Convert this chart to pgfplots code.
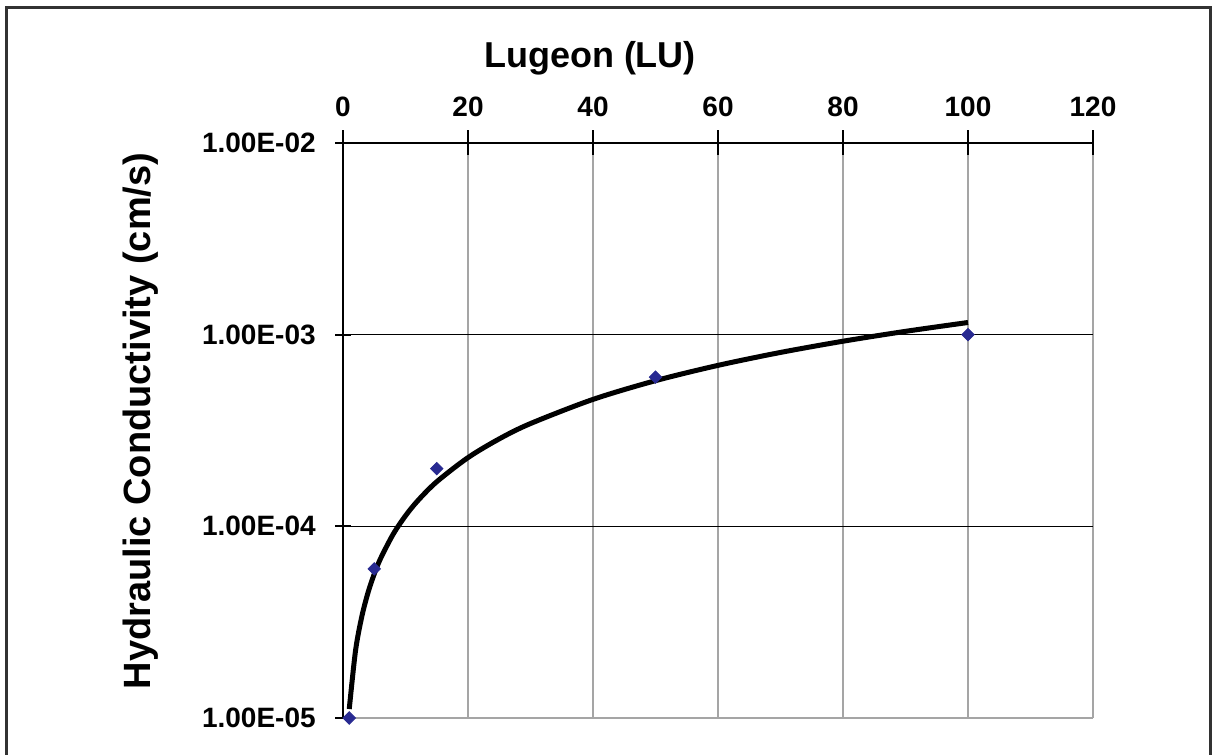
\documentclass[border=0pt]{standalone}
\usepackage{pgfplots}
\pgfplotsset{compat=1.18}
\usepackage{fontspec}
\setmainfont{Liberation Sans}
\definecolor{ptblue}{RGB}{40,42,145}
\definecolor{gridgray}{RGB}{165,165,165}
\definecolor{framegray}{RGB}{50,50,50}
\begin{document}
\begin{tikzpicture}
\useasboundingbox (0pt,0pt) rectangle (606.5pt,377pt);
\draw[line width=1.5pt, color=framegray] (3.25pt,-5pt) -- (3.25pt,373.25pt) -- (605.25pt,373.25pt) -- (605.25pt,-5pt);
\begin{axis}[
  at={(171.5pt,18pt)}, anchor=south west,
  scale only axis, width=375pt, height=287.5pt,
  xmin=0, xmax=120, ymode=log, ymin=1e-5, ymax=1e-2,
  axis x line*=top, axis y line*=left,
  axis line style={black, line width=1pt},
  xtick={0,20,40,60,80,100,120},
  ytick={1e-5,1e-4,1e-3,1e-2},
  yticklabels={1.00E-05,1.00E-04,1.00E-03,1.00E-02},
  yminorticks=false, xminorticks=false,
  tick align=center,
  xtick style={black, line width=1pt, /pgfplots/major tick length=12.5pt},
  ytick style={black, line width=1pt, /pgfplots/major tick length=8pt},
  xmajorgrids, ymajorgrids,
  x grid style={gridgray, line width=1pt},
  y grid style={black, line width=0.75pt},
  /pgf/number format/assume math mode=true,
  tick label style={font=\fontsize{14}{16}\selectfont\bfseries},
  xticklabel style={yshift=7.5pt},
  yticklabel style={xshift=-8pt},
  clip=false,
]
\addplot[black, line width=2.5pt, smooth] coordinates {
(1,1.114e-5) (2,2.241e-5) (3,3.373e-5) (4,4.508e-5) (5,5.645e-5) (6,6.784e-5)
(8,9.067e-5) (10,1.1355e-4) (12,1.3647e-4) (15,1.709e-4) (20,2.284e-4)
(25,2.860e-4) (30,3.438e-4) (40,4.595e-4) (50,5.754e-4) (60,6.915e-4)
(70,8.078e-4) (80,9.242e-4) (90,1.0407e-3) (100,1.1575e-3)
};
\draw[gridgray, line width=1pt] (axis cs:0.4,1e-5) -- (axis cs:120,1e-5);
\addplot[only marks, mark=square*, mark size=2.2pt, mark options={rotate=45, ptblue, draw=ptblue}] coordinates {
(1,1e-5) (5,6e-5) (15,2e-4) (50,6e-4) (100,1e-3)
};
\end{axis}
\node[font=\fontsize{18}{20}\selectfont\bfseries] at (295pt,348pt) {Lugeon (LU)};
\node[font=\fontsize{19}{21}\selectfont\bfseries, rotate=90] at (70.5pt,166.5pt) {Hydraulic Conductivity (cm/s)};
\end{tikzpicture}
\end{document}
